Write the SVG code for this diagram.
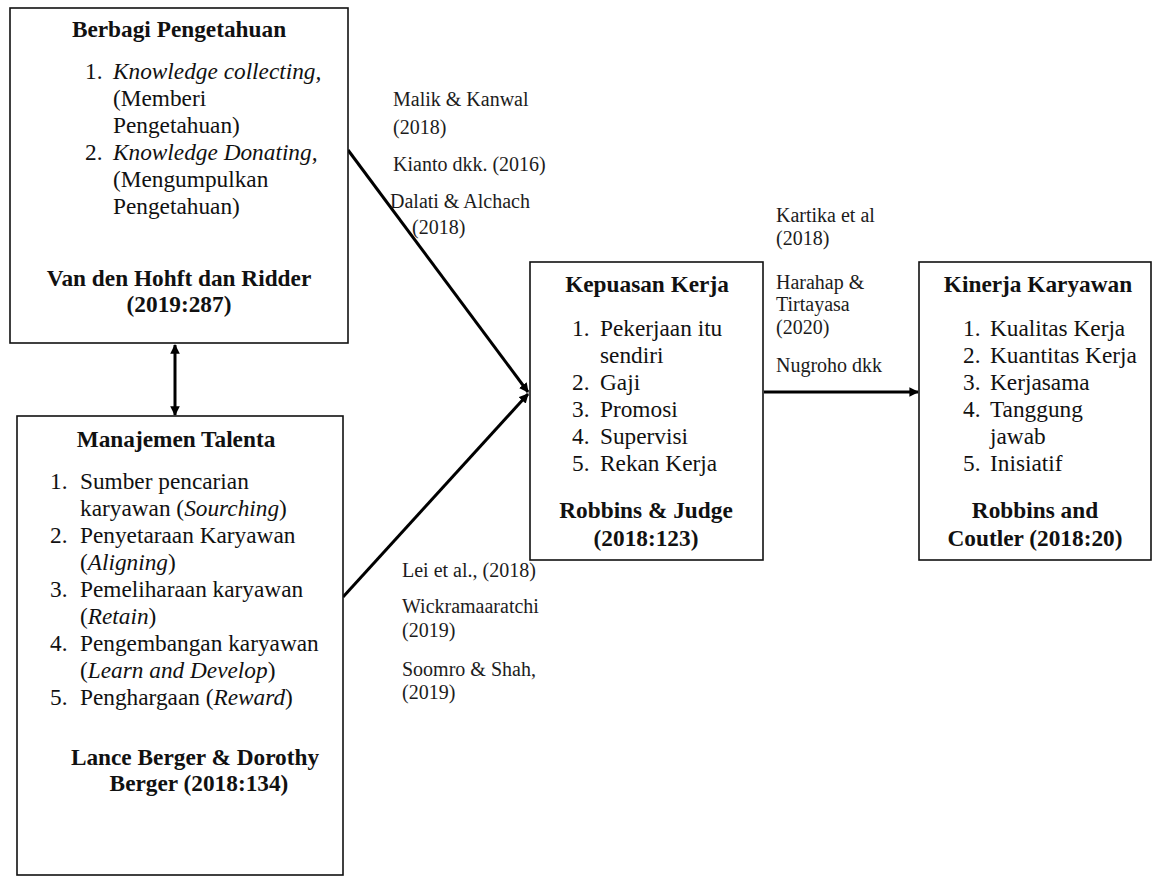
<svg xmlns="http://www.w3.org/2000/svg" width="1154" height="876" viewBox="0 0 1154 876" font-family="'Liberation Serif', 'Times New Roman', serif">
<style>
text{font-family:'Liberation Serif','Times New Roman',serif;fill:#111}
.t{font-size:23.3px}
.b{font-weight:bold}
.c{text-anchor:middle}
.i{font-style:italic}
.l{font-size:20px;fill:#1c1c1c}
.box{fill:#fff;stroke:#111;stroke-width:1.6}
.con{stroke:#000;stroke-width:3;fill:none}
</style>
<defs>
<marker id="ah" viewBox="0 0 10 10" refX="9" refY="5" markerWidth="3.2" markerHeight="3.2" orient="auto-start-reverse" markerUnits="strokeWidth">
<path d="M0,0 L10,5 L0,10 z" fill="#000"/>
</marker>
</defs>
<rect width="1154" height="876" fill="#fff"/>

<g id="connectors">
<line class="con" x1="348" y1="150" x2="528" y2="392" marker-end="url(#ah)"/>
<line class="con" x1="343" y1="597" x2="528" y2="394" marker-end="url(#ah)"/>
<line class="con" x1="764" y1="392" x2="918" y2="392" marker-end="url(#ah)"/>
<line class="con" x1="175" y1="345" x2="175" y2="415" marker-start="url(#ah)" marker-end="url(#ah)"/>
</g>

<g id="node-berbagi">
<rect class="box" x="10" y="8" width="338" height="335"/>
<text class="t b c" x="179" y="37">Berbagi Pengetahuan</text>
<text class="t" x="85" y="79">1.</text>
<text class="t i" x="113" y="79">Knowledge collecting,</text>
<text class="t" x="113" y="106">(Memberi</text>
<text class="t" x="113" y="133">Pengetahuan)</text>
<text class="t" x="85" y="160">2.</text>
<text class="t i" x="113" y="160">Knowledge Donating,</text>
<text class="t" x="113" y="187">(Mengumpulkan</text>
<text class="t" x="113" y="214">Pengetahuan)</text>
<text class="t b c" x="179" y="286">Van den Hohft dan Ridder</text>
<text class="t b c" x="179" y="312">(2019:287)</text>
</g>

<g id="node-manajemen">
<rect class="box" x="17" y="416" width="326" height="459"/>
<text class="t b c" x="176" y="447">Manajemen Talenta</text>
<text class="t" x="50" y="489">1.</text>
<text class="t" x="80" y="489">Sumber pencarian</text>
<text class="t" x="80" y="516">karyawan (<tspan class="i">Sourching</tspan>)</text>
<text class="t" x="50" y="543">2.</text>
<text class="t" x="80" y="543">Penyetaraan Karyawan</text>
<text class="t" x="80" y="570">(<tspan class="i">Aligning</tspan>)</text>
<text class="t" x="50" y="597">3.</text>
<text class="t" x="80" y="597">Pemeliharaan karyawan</text>
<text class="t" x="80" y="624">(<tspan class="i">Retain</tspan>)</text>
<text class="t" x="50" y="651">4.</text>
<text class="t" x="80" y="651">Pengembangan karyawan</text>
<text class="t" x="80" y="678">(<tspan class="i">Learn and Develop</tspan>)</text>
<text class="t" x="50" y="705">5.</text>
<text class="t" x="80" y="705">Penghargaan (<tspan class="i">Reward</tspan>)</text>
<text class="t b c" x="195" y="765">Lance Berger &amp; Dorothy</text>
<text class="t b c" x="199" y="791">Berger (2018:134)</text>
</g>

<g id="node-kepuasan">
<rect class="box" x="530" y="262" width="233" height="298"/>
<text class="t b c" x="647" y="292">Kepuasan Kerja</text>
<text class="t" x="572" y="336">1.</text>
<text class="t" x="600" y="336">Pekerjaan itu</text>
<text class="t" x="600" y="363">sendiri</text>
<text class="t" x="572" y="390">2.</text>
<text class="t" x="600" y="390">Gaji</text>
<text class="t" x="572" y="417">3.</text>
<text class="t" x="600" y="417">Promosi</text>
<text class="t" x="572" y="444">4.</text>
<text class="t" x="600" y="444">Supervisi</text>
<text class="t" x="572" y="471">5.</text>
<text class="t" x="600" y="471">Rekan Kerja</text>
<text class="t b c" x="646" y="518">Robbins &amp; Judge</text>
<text class="t b c" x="646" y="546">(2018:123)</text>
</g>

<g id="node-kinerja">
<rect class="box" x="919" y="262" width="232" height="298"/>
<text class="t b c" x="1038" y="292">Kinerja Karyawan</text>
<text class="t" x="963" y="336">1.</text>
<text class="t" x="990" y="336">Kualitas Kerja</text>
<text class="t" x="963" y="363">2.</text>
<text class="t" x="990" y="363">Kuantitas Kerja</text>
<text class="t" x="963" y="390">3.</text>
<text class="t" x="990" y="390">Kerjasama</text>
<text class="t" x="963" y="417">4.</text>
<text class="t" x="990" y="417">Tanggung</text>
<text class="t" x="990" y="444">jawab</text>
<text class="t" x="963" y="471">5.</text>
<text class="t" x="990" y="471">Inisiatif</text>
<text class="t b c" x="1035" y="518">Robbins and</text>
<text class="t b c" x="1035" y="546">Coutler (2018:20)</text>
</g>

<g id="labels-top">
<text class="l" x="393" y="106">Malik &amp; Kanwal</text>
<text class="l" x="393" y="134">(2018)</text>
<text class="l" x="393" y="171">Kianto dkk. (2016)</text>
<text class="l" x="390" y="208">Dalati &amp; Alchach</text>
<text class="l" x="412" y="234">(2018)</text>
</g>

<g id="labels-right">
<text class="l" x="776" y="222">Kartika et al</text>
<text class="l" x="776" y="245">(2018)</text>
<text class="l" x="776" y="289">Harahap &amp;</text>
<text class="l" x="776" y="311">Tirtayasa</text>
<text class="l" x="776" y="334">(2020)</text>
<text class="l" x="776" y="372">Nugroho dkk</text>
</g>

<g id="labels-bottom">
<text class="l" x="402" y="577">Lei et al., (2018)</text>
<text class="l" x="402" y="613">Wickramaaratchi</text>
<text class="l" x="402" y="637">(2019)</text>
<text class="l" x="402" y="676">Soomro &amp; Shah,</text>
<text class="l" x="402" y="699">(2019)</text>
</g>
</svg>
